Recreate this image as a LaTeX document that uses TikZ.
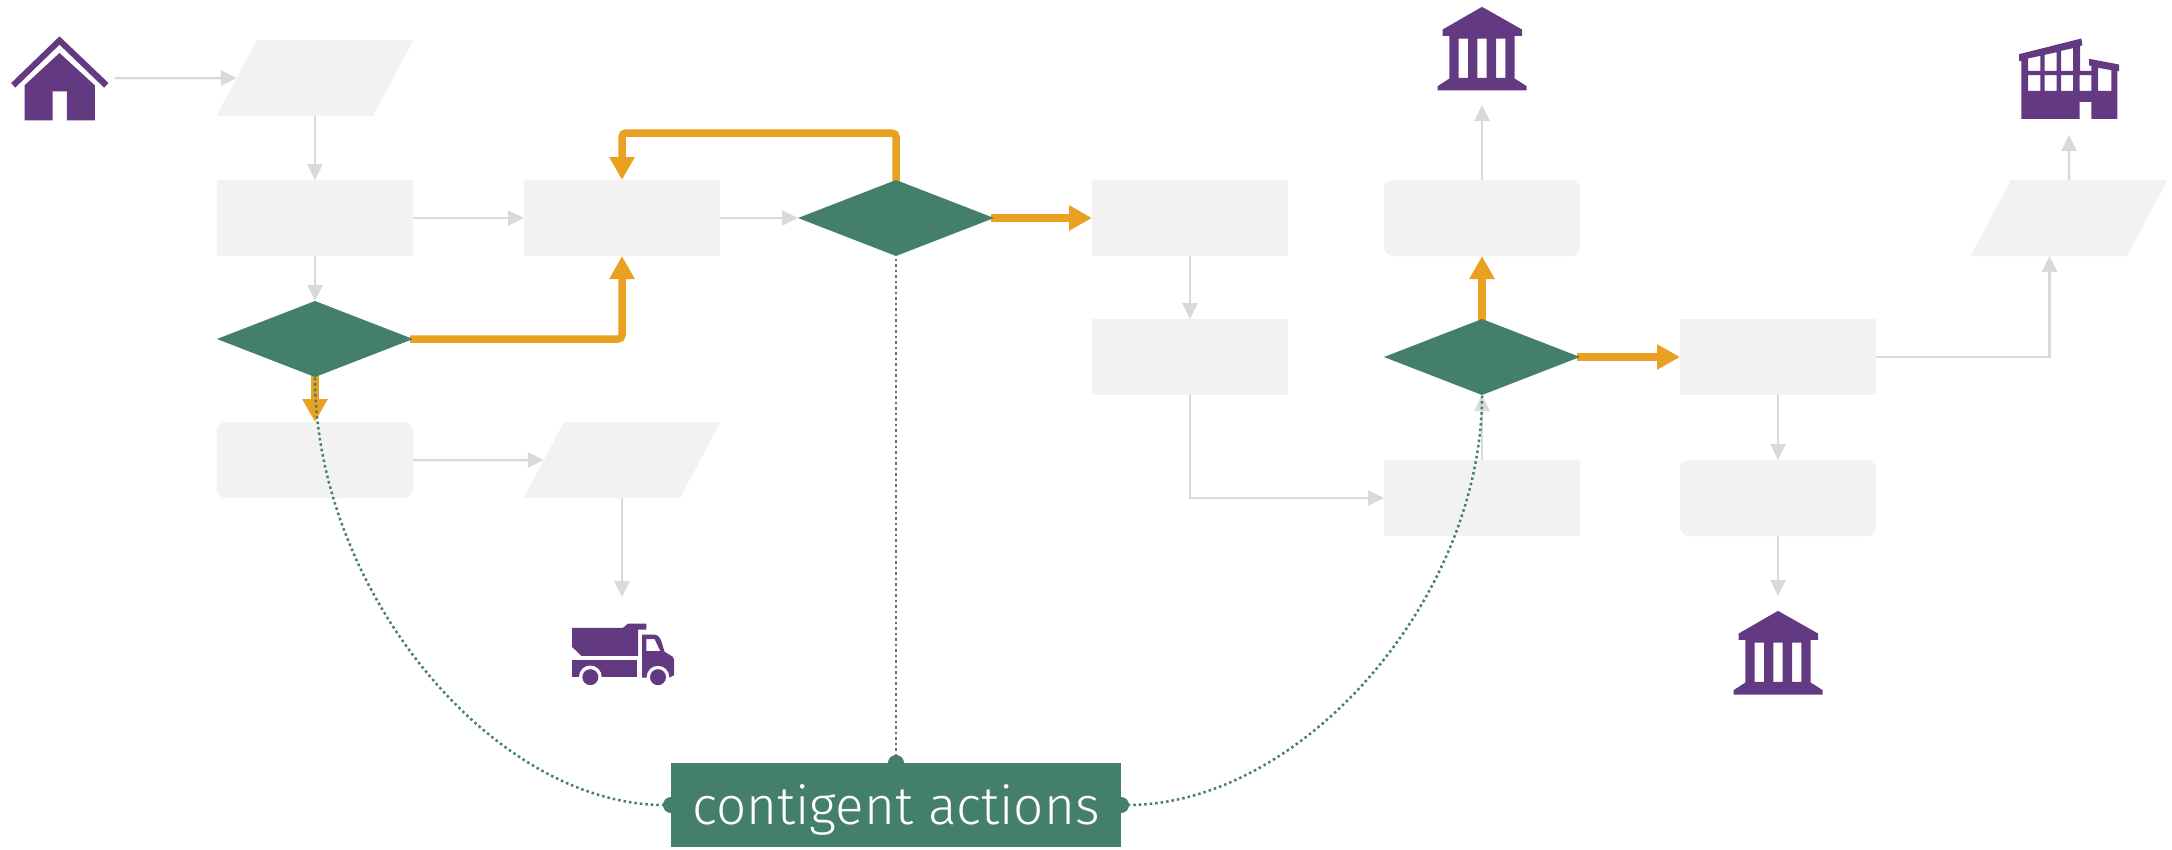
\documentclass[tikz,border=0pt]{standalone}
\usepackage{fontspec}
\setmainfont{Fira Sans}[UprightFont=* Light]
\usetikzlibrary{arrows.meta,backgrounds,positioning,shapes.geometric}

\definecolor{boxgray}{HTML}{F2F2F2}
\definecolor{linegray}{HTML}{D9D9D9}
\definecolor{decgreen}{HTML}{447F6C}
\definecolor{mainorange}{HTML}{EAA121}
\definecolor{iconpurple}{HTML}{633A82}

\tikzset{
  box/.style={fill=boxgray,minimum width=196pt,minimum height=76pt,inner sep=0pt,outer sep=0pt},
  softbox/.style={box,rounded corners=9pt},
  slantbox/.style={fill=boxgray,inner sep=0pt,outer sep=0pt,trapezium,trapezium left angle=62,trapezium right angle=118,text width=116pt,text height=76pt,text depth=0pt},
  decision/.style={fill=decgreen,diamond,aspect=2.57,minimum width=196pt,minimum height=76pt,inner sep=0pt,outer sep=0pt},
  iconbox/.style={minimum width=100pt,minimum height=113pt,inner sep=0pt,outer sep=0pt},
  flow/.style={color=linegray,line width=2.5pt,-{Triangle[length=16pt,width=15pt]}},
  mainflow/.style={color=mainorange,line width=7.5pt,rounded corners=4pt,shorten <=-3pt,-{Triangle[length=23pt,width=24pt]}},
  contingent/.style={color=decgreen,line width=2.5pt,dash pattern=on 2.5pt off 3pt,shorten <=-8pt,{Circle[length=16pt,width=16pt]}-},
  pics/house/.style={code={
    \begin{scope}[x=0.3333pt,y=-0.3333pt,shift={(-178,-175)}]
      \fill[iconpurple] (178,50) -- (325,190) -- (312,204) -- (178,75) -- (45,204) -- (33,190) -- cycle;
      \fill[iconpurple,even odd rule] (178,100) -- (284,197) -- (284,302) -- (200,302) -- (200,215) -- (157,215) -- (157,302) -- (73,302) -- (73,197) -- cycle;
    \end{scope}}},
  pics/bank/.style={code={
    \begin{scope}[x=0.3333pt,y=-0.3333pt,shift={(-215,-145)}]
      \fill[iconpurple,even odd rule] (215,20) -- (335,88) -- (335,107) -- (313,107) -- (313,235) -- (349,258) -- (349,271) -- (82,271) -- (82,258) -- (117,235) -- (117,107) -- (97,107) -- (97,88) -- cycle
        (145,115) rectangle (173,233) (201,115) rectangle (229,233) (257,115) rectangle (285,233);
    \end{scope}}},
  pics/factory/.style={code={
    \begin{scope}[x=0.3333pt,y=-0.3333pt,shift={(-238,-175)}]
      \fill[iconpurple,even odd rule] (88,102) -- (275,55) -- (278,75) -- (271,78) -- (271,152) -- (305,152) -- (305,137) -- (298,136) -- (298,116) -- (388,133) -- (388,153) -- (383,152) -- (383,296) -- (305,296) -- (305,245) -- (270,245) -- (270,296) -- (95,296) -- (95,122) -- (88,122) -- cycle
        (115,115) -- (152,107) -- (152,152) -- (115,152) -- cycle
        (165,104) -- (201,96) -- (201,152) -- (165,152) -- cycle
        (214,92) -- (250,84) -- (250,152) -- (214,152) -- cycle
        (115,165) rectangle (152,212) (165,165) rectangle (201,212) (214,165) rectangle (250,212) (270,165) rectangle (305,212)
        (325,143) -- (365,150) -- (365,212) -- (325,212) -- cycle;
    \end{scope}}},
  pics/truck/.style={code={
    \begin{scope}[x=0.3333pt,y=-0.3333pt,shift={(-247,-160)}]
      \fill[iconpurple] (97,83) -- (250,83) -- (265,70) -- (320,70) -- (320,88) -- (295,88) -- (295,167) -- (125,167) -- (97,140) -- cycle;
      \fill[iconpurple] (97,180) rectangle (293,230);
      \fill[iconpurple,even odd rule] (307,103) -- (345,103) .. controls (360,105) and (365,120) .. (370,140) -- (375,155) -- (400,170) -- (403,178) -- (403,225) -- (390,232) -- (307,232) -- cycle
        (320,117) -- (345,117) -- (362,153) -- (320,153) -- cycle;
      \fill[white] (152,230) circle (34) (355,231) circle (34);
      \fill[iconpurple] (152,231) circle (24) (355,231) circle (24);
    \end{scope}}}
}

\begin{document}
\begin{tikzpicture}[x=1pt,y=1pt,node distance=64pt]
\useasboundingbox (0,0) rectangle (2172,-849);

\node[box] (b1) at (315,-218) {};
\node[slantbox] (p1) [above=of b1] {};
\node[decision] (d1) [below=45pt of b1] {};
\node[softbox] (a1) [below=45pt of d1] {};
\node[box] (b2) [right=111pt of b1] {};
\node[slantbox] (p2) [below=166pt of b2] {};
\node[decision] (d2) [right=78pt of b2] {};
\node[box] (b3) [right=98pt of d2] {};
\node[box] (b4) [below=63pt of b3] {};
\node[decision] (d3) [right=96pt of b4] {};
\node[softbox] (a2) [above=63pt of d3] {};
\node[box] (b5) [below=65pt of d3] {};
\node[box] (b6) [right=100pt of d3] {};
\node[softbox] (a3) [below=65pt of b6] {};
\node[slantbox] (p3) at (2069,-218) {};

\node[iconbox,minimum width=110pt,minimum height=84pt] (home) at (59.5,-78) {};
\node[iconbox] (bank1) [above=75pt of a2] {};
\node[iconbox] (bank2) [below=60pt of a3] {};
\node[iconbox] (lorry) [below=99pt of p2] {};
\node[iconbox] (plant) [above=45pt of p3] {};
\pic at (home) {house};
\pic at (bank1) {bank};
\pic at (bank2) {bank};
\pic at (lorry) {truck};
\pic at (plant) {factory};

\node[fill=decgreen,text=white,minimum width=450pt,minimum height=84pt,inner sep=0pt,outer sep=0pt,text height=50pt,text depth=12pt,font=\fontsize{53}{60}\selectfont] (cont) [below=507pt of d2] {contigent actions};

\begin{scope}[on background layer]
\path[flow] (home) edge (p1)
            (p1) edge (b1)
            (b1) edge (b2)
                 edge (d1)
            (b2) edge (d2)
            (b3) edge (b4)
            (a1) edge (p2)
            (p2) edge (lorry)
            (b5) edge (d3)
            (a2) edge (bank1)
            (b6) edge (a3)
            (a3) edge (bank2)
            (p3) edge (plant);
\draw[flow] (b4.south) |- (b5.west);
\draw[flow] (b6.east) -| ([xshift=-19.5pt]p3.south);

\coordinate (turn) at (760,-133);
\draw[mainflow] (d1.east) -| (b2.south);
\draw[mainflow] (d2.north) |- (turn) -| (b2.north);
\draw[mainflow] (d1.south) -- (a1.north);
\draw[mainflow] (d2.east) -- (b3.west);
\draw[mainflow] (d3.north) -- (a2.south);
\draw[mainflow] (d3.east) -- (b6.west);
\end{scope}

\draw[contingent] (cont.north) -- (d2.south);
\draw[contingent] (cont.west) .. controls +(-178,0) and +(0,-213) .. (d1.south);
\draw[contingent] (cont.east) .. controls +(180,0) and +(0,-204) .. (d3.south);

\end{tikzpicture}
\end{document}
